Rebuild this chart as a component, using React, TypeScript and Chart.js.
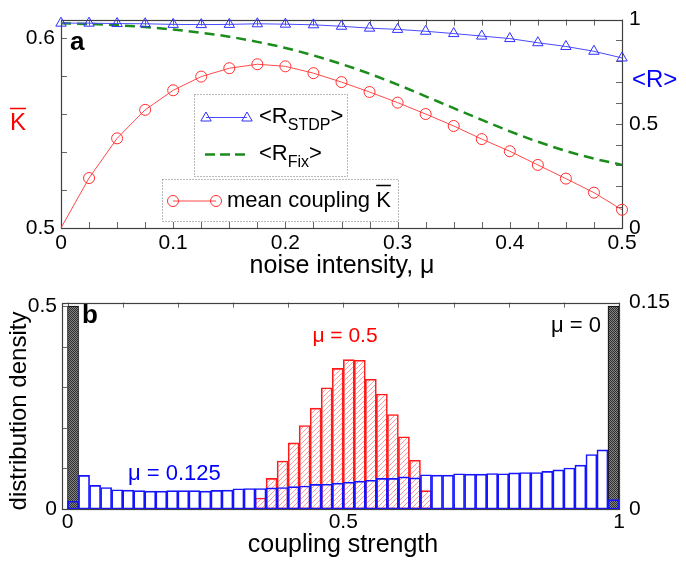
import React, { useEffect, useRef } from 'react';
import { Chart, registerables } from 'chart.js';

Chart.register(...registerables);

const FONT = "'Liberation Sans', Arial, sans-serif";

// ---------- Panel a data ----------
const noiseIntensity = [0, 0.025, 0.05, 0.075, 0.1, 0.125, 0.15, 0.175, 0.2, 0.225, 0.25, 0.275, 0.3, 0.325, 0.35, 0.375, 0.4, 0.425, 0.45, 0.475, 0.5];
const meanCoupling = [0.5, 0.5263, 0.5472, 0.5622, 0.5725, 0.5797, 0.5841, 0.5862, 0.5851, 0.5815, 0.5768, 0.5716, 0.566, 0.56, 0.5537, 0.5468, 0.5404, 0.5332, 0.526, 0.5186, 0.5096];
const rSTDP = [0.983, 0.983, 0.981, 0.98, 0.977, 0.976, 0.977, 0.98, 0.978, 0.975, 0.968, 0.959, 0.953, 0.944, 0.933, 0.921, 0.909, 0.889, 0.871, 0.848, 0.816];
const rFix = [0.982, 0.979, 0.973, 0.964, 0.952, 0.937, 0.918, 0.893, 0.864, 0.828, 0.787, 0.74, 0.688, 0.632, 0.575, 0.519, 0.464, 0.414, 0.37, 0.333, 0.303];

const aXMinorTicks = [0, 0.025, 0.05, 0.075, 0.1, 0.125, 0.15, 0.175, 0.2, 0.225, 0.25, 0.275, 0.3, 0.325, 0.35, 0.375, 0.4, 0.425, 0.45, 0.475, 0.5];
const aXLabelTicks = [0, 0.1, 0.2, 0.3, 0.4, 0.5];
const aKMinorTicks = [0.5, 0.52, 0.54, 0.56, 0.58, 0.6];
const aKLabelTicks = [0.5, 0.6];
const aRMinorTicks = [0, 0.1, 0.2, 0.3, 0.4, 0.5, 0.6, 0.7, 0.8, 0.9, 1];
const aRLabelTicks = [0, 0.5, 1];

// ---------- Panel b data ----------
const binCenters = [0.01, 0.03, 0.05, 0.07, 0.09, 0.11, 0.13, 0.15, 0.17, 0.19, 0.21, 0.23, 0.25, 0.27, 0.29, 0.31, 0.33, 0.35, 0.37, 0.39, 0.41, 0.43, 0.45, 0.47, 0.49, 0.51, 0.53, 0.55, 0.57, 0.59, 0.61, 0.63, 0.65, 0.67, 0.69, 0.71, 0.73, 0.75, 0.77, 0.79, 0.81, 0.83, 0.85, 0.87, 0.89, 0.91, 0.93, 0.95, 0.97, 0.99];
const densMu0 = [0.5, null, null, null, null, null, null, null, null, null, null, null, null, null, null, null, null, null, null, null, null, null, null, null, null, null, null, null, null, null, null, null, null, null, null, null, null, null, null, null, null, null, null, null, null, null, null, null, null, 0.5];
const densMu05 = [null, null, null, null, null, null, null, null, null, null, null, null, null, null, null, null, null, 0.008, 0.0222, 0.0349, 0.048, 0.0607, 0.0733, 0.0881, 0.1022, 0.1086, 0.1081, 0.0943, 0.0836, 0.0687, 0.0525, 0.0354, 0.0133, null, null, null, null, null, null, null, null, null, null, null, null, null, null, null, null, null];
const densMu0125 = [0.0056, 0.0244, 0.0172, 0.0156, 0.014, 0.0137, 0.0133, 0.013, 0.013, 0.0133, 0.0133, 0.0133, 0.013, 0.0135, 0.0137, 0.0147, 0.0149, 0.0149, 0.0153, 0.0156, 0.0163, 0.0167, 0.0179, 0.018, 0.0188, 0.0195, 0.0202, 0.0209, 0.0223, 0.0223, 0.0233, 0.0226, 0.0249, 0.0246, 0.0246, 0.0256, 0.0253, 0.0253, 0.0258, 0.0256, 0.0263, 0.0265, 0.0265, 0.0274, 0.0284, 0.0298, 0.0319, 0.0396, 0.043, 0.0068];

const bXMinorTicks = [0, 0.1, 0.2, 0.3, 0.4, 0.5, 0.6, 0.7, 0.8, 0.9, 1];
const bXLabelTicks = [0, 0.5, 1];
const bLMinorTicks = [0, 0.1, 0.2, 0.3, 0.4, 0.5];
const bLLabelTicks = [0, 0.5];
const bRMinorTicks = [0, 0.03, 0.06, 0.09, 0.12, 0.15];
const bRLabelTicks = [0, 0.15];

// ---------- helpers ----------
function axisOpts(labels: number[], extra: any, tickExtra: any) {
  return {
    grid: { display: false, drawTicks: false },
    border: { display: false },
    afterBuildTicks: (s: any) => { s.ticks = labels.map((v) => ({ value: v })); },
    ticks: {
      color: '#000',
      font: { family: FONT, size: 21 },
      autoSkip: false,
      maxRotation: 0,
      minRotation: 0,
      callback: (v: any) => String(v),
      ...tickExtra,
    },
    ...extra,
  };
}

function drawTickMarks(ctx: CanvasRenderingContext2D, chart: any, id: string, values: number[], sides: string[], len: number) {
  const s = chart.scales[id];
  const ca = chart.chartArea;
  ctx.beginPath();
  for (const v of values) {
    const p = Math.round(s.getPixelForValue(v)) + 0.5;
    if (sides.includes('bottom')) { ctx.moveTo(p, ca.bottom); ctx.lineTo(p, ca.bottom - len); }
    if (sides.includes('top')) { ctx.moveTo(p, ca.top); ctx.lineTo(p, ca.top + len); }
    if (sides.includes('left')) { ctx.moveTo(ca.left, p); ctx.lineTo(ca.left + len, p); }
    if (sides.includes('right')) { ctx.moveTo(ca.right, p); ctx.lineTo(ca.right - len, p); }
  }
  ctx.stroke();
}

function drawFrame(ctx: CanvasRenderingContext2D, ca: any) {
  ctx.save();
  ctx.strokeStyle = '#404040';
  ctx.lineWidth = 1.2;
  ctx.strokeRect(Math.round(ca.left) + 0.5, Math.round(ca.top) + 0.5, Math.round(ca.right - ca.left), Math.round(ca.bottom - ca.top));
  ctx.restore();
}

function text(ctx: CanvasRenderingContext2D, s: string, x: number, y: number, size: number, color: string, align: CanvasTextAlign = 'left', bold = false) {
  ctx.font = `${bold ? 'bold ' : ''}${size}px ${FONT}`;
  ctx.fillStyle = color;
  ctx.textAlign = align;
  ctx.textBaseline = 'alphabetic';
  ctx.fillText(s, x, y);
}

function subText(ctx: CanvasRenderingContext2D, x: number, y: number, main: string, sub: string, tail: string, color: string) {
  ctx.fillStyle = color;
  ctx.textAlign = 'left';
  ctx.textBaseline = 'alphabetic';
  ctx.font = `22px ${FONT}`;
  ctx.fillText(main, x, y);
  x += ctx.measureText(main).width;
  ctx.font = `16px ${FONT}`;
  ctx.fillText(sub, x, y + 7);
  x += ctx.measureText(sub).width;
  ctx.font = `22px ${FONT}`;
  ctx.fillText(tail, x, y);
}

function triangle(ctx: CanvasRenderingContext2D, x: number, y: number, r: number) {
  ctx.beginPath();
  ctx.moveTo(x, y - r);
  ctx.lineTo(x + r * 0.866, y + r * 0.5);
  ctx.lineTo(x - r * 0.866, y + r * 0.5);
  ctx.closePath();
  ctx.stroke();
}

function hatchPattern(color: string) {
  const c = document.createElement('canvas');
  c.width = 5; c.height = 5;
  const g = c.getContext('2d')!;
  g.strokeStyle = color;
  g.lineWidth = 0.8;
  g.beginPath();
  g.moveTo(-1, 6); g.lineTo(6, -1);
  g.moveTo(-1, 1); g.lineTo(1, -1);
  g.moveTo(4, 6); g.lineTo(6, 4);
  g.stroke();
  return g.createPattern(c, 'repeat');
}

function stipplePattern() {
  const c = document.createElement('canvas');
  c.width = 2; c.height = 2;
  const g = c.getContext('2d')!;
  g.fillStyle = '#858585'; g.fillRect(0, 0, 2, 2);
  g.fillStyle = '#2e2e2e'; g.fillRect(0, 0, 1, 1); g.fillRect(1, 1, 1, 1);
  return g.createPattern(c, 'repeat');
}

const BLUE_LINE = '#4a4aff';
const BLUE_MARK = '#3030ff';
const RED_LINE = '#ff4a4a';
const RED_MARK = '#ff3030';
const GREEN = '#1c8c1c';

// ---------- Panel a config ----------
function topConfig(): any {
  const decor = {
    id: 'decorA',
    beforeDatasetsDraw(chart: any) {
      const ctx = chart.ctx;
      ctx.save();
      ctx.strokeStyle = '#666';
      ctx.lineWidth = 1;
      drawTickMarks(ctx, chart, 'x', aXMinorTicks, ['bottom', 'top'], 6);
      drawTickMarks(ctx, chart, 'yK', aKMinorTicks, ['left'], 6);
      drawTickMarks(ctx, chart, 'yR', aRMinorTicks, ['right'], 6);
      ctx.restore();
      drawFrame(ctx, chart.chartArea);
    },
    afterDraw(chart: any) {
      const ctx = chart.ctx;
      ctx.save();
      text(ctx, 'a', 70, 50, 26, '#000', 'left', true);
      // left axis label K with bar
      text(ctx, 'K', 10, 130, 24, '#ff0000');
      ctx.strokeStyle = '#ff0000';
      ctx.lineWidth = 1.5;
      ctx.beginPath(); ctx.moveTo(10, 108.5); ctx.lineTo(26, 108.5); ctx.stroke();
      text(ctx, '<R>', 632, 87, 24, '#0000ff');
      text(ctx, 'noise intensity, \u03bc', 342, 273, 25, '#000', 'center');

      // legend boxes
      ctx.setLineDash([1, 2]);
      ctx.strokeStyle = '#777';
      ctx.lineWidth = 1;
      ctx.strokeRect(194.5, 94.5, 153, 82);
      ctx.strokeRect(162.5, 179.5, 236, 42);
      ctx.setLineDash([]);

      // STDP entry
      ctx.strokeStyle = BLUE_LINE;
      ctx.lineWidth = 1;
      ctx.beginPath(); ctx.moveTo(206, 117.5); ctx.lineTo(247, 117.5); ctx.stroke();
      ctx.strokeStyle = BLUE_MARK;
      triangle(ctx, 206, 118, 6);
      triangle(ctx, 247, 118, 6);
      subText(ctx, 259, 123, '<R', 'STDP', '>', '#000');

      // Fix entry
      ctx.strokeStyle = GREEN;
      ctx.lineWidth = 2.5;
      ctx.setLineDash([10, 5]);
      ctx.beginPath(); ctx.moveTo(205, 154.5); ctx.lineTo(246, 154.5); ctx.stroke();
      ctx.setLineDash([]);
      subText(ctx, 259, 160, '<R', 'Fix', '>', '#000');

      // mean coupling entry
      ctx.strokeStyle = RED_LINE;
      ctx.lineWidth = 1;
      ctx.beginPath(); ctx.moveTo(173, 201); ctx.lineTo(216, 201); ctx.stroke();
      ctx.strokeStyle = RED_MARK;
      ctx.beginPath(); ctx.arc(173, 201, 5.5, 0, Math.PI * 2); ctx.stroke();
      ctx.beginPath(); ctx.arc(216, 201, 5.5, 0, Math.PI * 2); ctx.stroke();
      text(ctx, 'mean coupling K', 227, 207, 22, '#000');
      ctx.font = `22px ${FONT}`;
      const kx = 227 + ctx.measureText('mean coupling ').width;
      const kw = ctx.measureText('K').width;
      ctx.strokeStyle = '#000';
      ctx.lineWidth = 1.5;
      ctx.beginPath(); ctx.moveTo(kx, 185.5); ctx.lineTo(kx + kw, 185.5); ctx.stroke();
      ctx.restore();
    },
  };

  return {
    type: 'line',
    data: {
      datasets: [
        {
          label: '<R_STDP>',
          data: noiseIntensity.map((x, i) => ({ x, y: rSTDP[i] })),
          yAxisID: 'yR',
          borderColor: BLUE_LINE,
          borderWidth: 1,
          pointStyle: 'triangle',
          pointRadius: 6,
          pointBorderColor: BLUE_MARK,
          pointBackgroundColor: 'rgba(0,0,0,0)',
          pointBorderWidth: 1,
          tension: 0,
          clip: false,
        },
        {
          label: '<R_Fix>',
          data: noiseIntensity.map((x, i) => ({ x, y: rFix[i] })),
          yAxisID: 'yR',
          borderColor: GREEN,
          borderWidth: 2.5,
          borderDash: [10, 6],
          pointRadius: 0,
          cubicInterpolationMode: 'monotone',
          clip: false,
        },
        {
          label: 'mean coupling K',
          data: noiseIntensity.map((x, i) => ({ x, y: meanCoupling[i] })),
          yAxisID: 'yK',
          borderColor: RED_LINE,
          borderWidth: 1,
          pointStyle: 'circle',
          pointRadius: (c: any) => (c.dataIndex === 0 ? 0 : 5.5),
          pointBorderColor: RED_MARK,
          pointBackgroundColor: 'rgba(0,0,0,0)',
          pointBorderWidth: 1,
          tension: 0,
          clip: false,
        },
      ],
    },
    options: {
      animation: false,
      responsive: false,
      devicePixelRatio: 1,
      layout: { padding: { top: 14, left: 0, right: 0, bottom: 0 } },
      plugins: { legend: { display: false }, tooltip: { enabled: false } },
      events: [],
      scales: {
        x: axisOpts(aXLabelTicks, { type: 'linear', min: 0, max: 0.5, afterFit: (s: any) => { s.height = 52; } }, { padding: 3 }),
        yK: axisOpts(aKLabelTicks, { type: 'linear', position: 'left', min: 0.5, max: 0.6097, afterFit: (s: any) => { s.width = 61; } }, { padding: 6 }),
        yR: axisOpts(aRLabelTicks, { type: 'linear', position: 'right', min: 0, max: 1, afterFit: (s: any) => { s.width = 64; } }, { padding: 7 }),
      },
    },
    plugins: [decor],
  };
}

// ---------- Panel b config ----------
function bottomConfig(): any {
  const decor = {
    id: 'decorB',
    beforeDatasetsDraw(chart: any) {
      const ctx = chart.ctx;
      ctx.save();
      ctx.strokeStyle = '#666';
      ctx.lineWidth = 1;
      drawTickMarks(ctx, chart, 'x', bXMinorTicks, ['bottom', 'top'], 5);
      drawTickMarks(ctx, chart, 'yL', bLMinorTicks, ['left'], 5);
      drawTickMarks(ctx, chart, 'yR', bRMinorTicks, ['right'], 5);
      ctx.restore();
    },
    afterDatasetsDraw(chart: any) {
      drawFrame(chart.ctx, chart.chartArea);
    },
    afterDraw(chart: any) {
      const ctx = chart.ctx;
      ctx.save();
      text(ctx, 'b', 82, 43, 26, '#000', 'left', true);
      text(ctx, '\u03bc = 0.5', 345, 61.5, 21, '#ff0000', 'center');
      text(ctx, '\u03bc = 0.125', 128, 200, 22, '#0000ff');
      text(ctx, '\u03bc = 0', 551, 51.5, 22, '#000');
      text(ctx, 'coupling strength', 343, 272, 25, '#000', 'center');
      ctx.translate(19, 131);
      ctx.rotate(-Math.PI / 2);
      ctx.font = `24px ${FONT}`;
      ctx.fillStyle = '#000';
      ctx.textAlign = 'center';
      ctx.textBaseline = 'middle';
      ctx.fillText('distribution density', 0, 0);
      ctx.restore();
    },
  };

  const common = { grouped: false, barPercentage: 1, categoryPercentage: 1, borderSkipped: false, borderWidth: 1 };

  return {
    type: 'bar',
    data: {
      datasets: [
        {
          label: '\u03bc = 0.125',
          data: binCenters.map((x, i) => ({ x, y: densMu0125[i] })),
          yAxisID: 'yR',
          backgroundColor: 'rgba(0,0,0,0)',
          borderColor: '#1414ff',
          ...common,
        },
        {
          label: '\u03bc = 0.5',
          data: binCenters.map((x, i) => ({ x, y: densMu05[i] })),
          yAxisID: 'yR',
          backgroundColor: hatchPattern('rgba(255,90,90,0.75)'),
          borderColor: '#ff1a1a',
          ...common,
        },
        {
          label: '\u03bc = 0',
          data: binCenters.map((x, i) => ({ x, y: densMu0[i] })),
          yAxisID: 'yL',
          backgroundColor: stipplePattern(),
          borderColor: '#000',
          ...common,
        },
      ],
    },
    options: {
      animation: false,
      responsive: false,
      devicePixelRatio: 1,
      layout: { padding: { top: 14, left: 0, right: 0, bottom: 0 } },
      plugins: { legend: { display: false }, tooltip: { enabled: false } },
      events: [],
      scales: {
        x: axisOpts(bXLabelTicks, { type: 'linear', min: -0.01, max: 1.0, offset: false, afterFit: (s: any) => { s.height = 56; } }, { padding: 1 }),
        yL: axisOpts(bLLabelTicks, { type: 'linear', position: 'left', min: 0, max: 0.5083, afterFit: (s: any) => { s.width = 62; } }, { padding: 5 }),
        yR: axisOpts(bRLabelTicks, { type: 'linear', position: 'right', min: 0, max: 0.15, afterFit: (s: any) => { s.width = 67; } }, { padding: 10 }),
      },
    },
    plugins: [decor],
  };
}

export default function App() {
  const topRef = useRef<HTMLCanvasElement>(null);
  const botRef = useRef<HTMLCanvasElement>(null);

  useEffect(() => {
    const c1 = new Chart(topRef.current as HTMLCanvasElement, topConfig());
    const c2 = new Chart(botRef.current as HTMLCanvasElement, bottomConfig());
    return () => {
      c1.destroy();
      c2.destroy();
    };
  }, []);

  return (
    <div style={{ position: 'absolute', left: 0, top: 0, width: 686, height: 565, background: '#fff' }}>
      <canvas ref={topRef} width={686} height={280} style={{ position: 'absolute', left: 0, top: 0, width: 686, height: 280 }} />
      <canvas ref={botRef} width={686} height={285} style={{ position: 'absolute', left: 0, top: 280, width: 686, height: 285 }} />
    </div>
  );
}
